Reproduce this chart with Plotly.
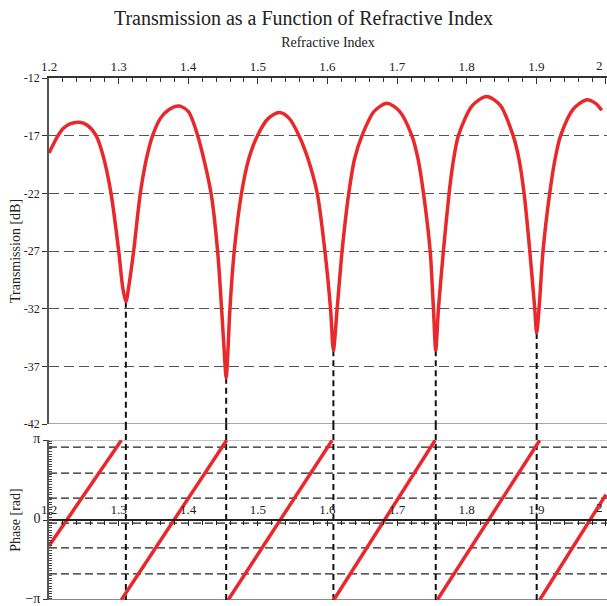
import math
import plotly.graph_objects as go

PI = math.pi

# ---------------- data ----------------
title_text = "Transmission as a Function of Refractive Index"

n_index = [1.200, 1.205, 1.2129, 1.220, 1.230, 1.2439, 1.255, 1.2677, 1.278, 1.2891,
           1.3001, 1.306, 1.3104, 1.315, 1.3216, 1.3312, 1.340, 1.3488, 1.360, 1.372,
           1.3870, 1.400, 1.4136, 1.4328, 1.4422, 1.4479, 1.4525, 1.4545, 1.4565, 1.4599,
           1.4661, 1.4765, 1.4870, 1.4994, 1.515, 1.5305, 1.545, 1.5591, 1.5720, 1.5853,
           1.5963, 1.6044, 1.6085, 1.6139, 1.6210, 1.6306, 1.6390, 1.6496, 1.6670, 1.6854,
           1.7030, 1.7212, 1.7300, 1.7379, 1.7475, 1.7522, 1.7555, 1.7594, 1.7665, 1.7747,
           1.7800, 1.7880, 1.8080, 1.8285, 1.8480, 1.8667, 1.8750, 1.8824, 1.8906, 1.8977,
           1.9005, 1.9039, 1.9096, 1.9192, 1.9270, 1.9349, 1.9530, 1.9715, 1.9850, 1.994]
transmission_db = [-18.5, -17.9, -17.0, -16.4, -15.98, -15.84, -16.1, -17.0, -18.8, -22.0,
                   -27.0, -30.2, -31.4, -29.9, -27.0, -22.0, -19.0, -17.0, -15.5, -14.75,
                   -14.43, -14.9, -17.0, -22.0, -27.0, -32.0, -36.5, -38.0, -36.3, -32.0,
                   -27.0, -22.0, -19.0, -17.0, -15.5, -15.0, -15.5, -17.0, -19.0, -22.0,
                   -27.0, -32.0, -35.6, -32.0, -27.0, -22.0, -19.0, -17.0, -14.9, -14.19,
                   -14.85, -17.0, -19.0, -22.0, -27.0, -32.0, -35.6, -32.0, -27.0, -22.0,
                   -19.5, -17.0, -14.4, -13.6, -14.35, -17.0, -19.0, -22.0, -27.0, -32.0,
                   -34.1, -32.0, -27.0, -22.0, -19.0, -17.0, -14.7, -13.9, -14.2, -14.8]

resonance_n = [1.3104, 1.4545, 1.6085, 1.7555, 1.9005]
resonance_db = [-31.4, -38.0, -35.6, -35.6, -34.1]

phase_start_n = [1.200, 1.304, 1.4575, 1.6092, 1.7579, 1.9049]
phase_end_n = [1.304, 1.4551, 1.6067, 1.7546, 1.9049, 2.000]
phase_start_rad = [-1.02, -PI, -PI, -PI, -PI, -PI]
phase_end_rad = [PI, PI, PI, PI, PI, 1.0]

db_ticks = [-12, -17, -22, -27, -32, -37, -42]
db_ticktext = ["-12", "-17", "-22", "-27", "-32", "-37", "-42"]
db_grid = [-17, -22, -27, -32, -37]
phase_ticks = [-PI, 0, PI]
phase_ticktext = ["\u2212\u03c0", "0", "\u03c0"]
phase_grid = [2.87, 1.85, 0.86, -0.12, -1.10, -2.12]
n_ticks = [1.2, 1.3, 1.4, 1.5, 1.6, 1.7, 1.8, 1.9, 2.0]
n_ticktext = ["1.2", "1.3", "1.4", "1.5", "1.6", "1.7", "1.8", "1.9", "2"]
n_range = [1.2, 2.0015]
db_range = [-42, -12]
phase_range = [-PI - 0.01, PI + 0.01]

# ---------------- layout geometry ----------------
W, H = 607, 606
M_L, M_R, M_T, M_B = 49, 0, 78, 6
plot_h = H - M_T - M_B
top_dom = [(H - M_B - 424) / plot_h, 1.0]
bot_dom = [0.0, (H - M_B - 440) / plot_h]
zero_pos = bot_dom[0] + (0 - phase_range[0]) / (phase_range[1] - phase_range[0]) * (bot_dom[1] - bot_dom[0])

RED = "#e8282b"
FONT = "Liberation Serif"

# the last tick label sits on the right edge: draw it as a right-anchored annotation
axis_ticktext = n_ticktext[:-1] + [""]
edge_val, edge_text = n_ticks[-1], n_ticktext[-1]

# phase traces with gaps
px, py = [], []
for a, b, ya, yb in zip(phase_start_n, phase_end_n, phase_start_rad, phase_end_rad):
    px += [a, b, None]
    py += [ya, yb, None]

fig = go.Figure()
fig.add_trace(go.Scatter(x=n_index, y=transmission_db, mode="lines",
                         line=dict(color=RED, width=3.5, shape="spline", smoothing=0.8),
                         xaxis="x", yaxis="y", showlegend=False, hoverinfo="skip"))
fig.add_trace(go.Scatter(x=px, y=py, mode="lines",
                         line=dict(color=RED, width=3.5),
                         xaxis="x2", yaxis="y2", showlegend=False, hoverinfo="skip"))

shapes = []
# frame lines
shapes.append(dict(type="line", xref="paper", yref="y", x0=0, x1=1, y0=db_range[0], y1=db_range[0],
                   line=dict(color="#8a8a8a", width=1.5), layer="between"))
shapes.append(dict(type="line", xref="paper", yref="y2", x0=0, x1=1, y0=PI, y1=PI,
                   line=dict(color="#b0b0b0", width=1.2), layer="between"))
shapes.append(dict(type="line", xref="paper", yref="y2", x0=0, x1=1, y0=-PI, y1=-PI,
                   line=dict(color="#8a8a8a", width=1.5), layer="between"))
# phase grid lines
for g in phase_grid:
    shapes.append(dict(type="line", xref="paper", yref="y2", x0=0, x1=1, y0=g, y1=g,
                       line=dict(color="#222222", width=1.3, dash="8px,4px"), layer="between"))
# vertical dashed resonance lines
for xn, yd in zip(resonance_n, resonance_db):
    shapes.append(dict(type="line", xref="x", yref="y", x0=xn, x1=xn, y0=yd, y1=db_range[0],
                       line=dict(color="#111111", width=2, dash="6px,4px"), layer="between"))
    shapes.append(dict(type="line", xref="x", yref="paper", x0=xn, x1=xn, y0=0, y1=top_dom[0],
                       line=dict(color="#111111", width=2, dash="6px,4px"), layer="between"))

annotations = [
    dict(text=edge_text, xref="x", yref="paper", x=edge_val, y=1, xanchor="right", yanchor="bottom",
         yshift=3, xshift=-1, showarrow=False, font=dict(family=FONT, size=13, color="#222222")),
    dict(text=edge_text, xref="x2", yref="paper", x=edge_val, y=zero_pos, xanchor="right",
         yanchor="bottom", yshift=3, xshift=-1, showarrow=False,
         font=dict(family=FONT, size=13, color="#222222")),
]

dense_phase = [round(-3.1 + 0.1 * i, 2) for i in range(63)]

fig.update_layout(
    width=W, height=H,
    margin=dict(l=M_L, r=M_R, t=M_T, b=M_B),
    paper_bgcolor="white", plot_bgcolor="white",
    font=dict(family=FONT, color="#222222", size=12),
    title=dict(text=title_text, x=0.5, xanchor="center", y=1 - 18 / H, yanchor="middle",
               font=dict(family=FONT, size=20, color="#222222")),
    shapes=shapes,
    annotations=annotations,
    xaxis=dict(domain=[0, 1], range=n_range, side="top", anchor="y", automargin=False,
               tickmode="array", tickvals=n_ticks, ticktext=axis_ticktext, ticklabeloverflow="allow",
               ticks="inside", ticklen=6, tickcolor="#333",
               minor=dict(dtick=0.02, tick0=1.2, ticks="inside", ticklen=4, tickcolor="#333"),
               showline=True, linecolor="#333333", linewidth=1.5, showgrid=False, zeroline=False,
               tickfont=dict(size=13),
               title=dict(text="Refractive Index", font=dict(size=14), standoff=8)),
    yaxis=dict(domain=top_dom, range=db_range, anchor="x", automargin=False,
               tickmode="array", tickvals=db_ticks, ticktext=db_ticktext, ticklabeloverflow="allow",
               ticks="outside", ticklen=5, tickcolor="#333",
               showline=True, linecolor="#555555", linewidth=1.5, zeroline=False, showgrid=False,
               minor=dict(tickvals=db_grid, showgrid=True, gridcolor="#555555", gridwidth=1.3,
                          griddash="10px,5px", ticks=""),
               tickfont=dict(size=12),
               title=dict(text="Transmission [dB]", font=dict(size=14), standoff=0)),
    xaxis2=dict(domain=[0, 1], range=n_range, side="top", anchor="free", position=zero_pos,
                automargin=False,
                tickmode="array", tickvals=n_ticks, ticktext=axis_ticktext, ticklabeloverflow="allow",
                ticks="inside", ticklen=5, tickcolor="#222",
                minor=dict(dtick=0.02, tick0=1.2, ticks="inside", ticklen=4, tickcolor="#222"),
                showline=True, linecolor="#222222", linewidth=1.5, showgrid=False, zeroline=False,
                tickfont=dict(size=13)),
    yaxis2=dict(domain=bot_dom, range=phase_range, anchor="x2", automargin=False,
                tickmode="array", tickvals=phase_ticks, ticktext=phase_ticktext,
                ticklabeloverflow="allow", ticklabelshift=-2,
                ticks="outside", ticklen=4, tickcolor="#333",
                minor=dict(tickvals=dense_phase, ticks="inside", ticklen=3, tickcolor="#444"),
                showline=True, linecolor="#555555", linewidth=1.5, showgrid=False, zeroline=False,
                tickfont=dict(size=14),
                title=dict(text="Phase [rad]", font=dict(size=14), standoff=2)),
)

fig.write_html("out.html")
